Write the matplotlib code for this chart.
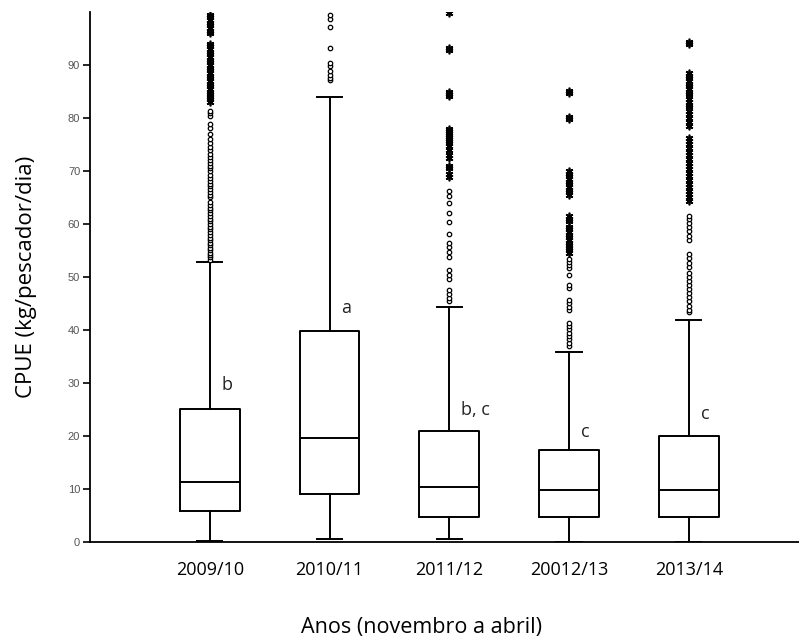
import numpy as np
import matplotlib
matplotlib.use("Agg")
import matplotlib.pyplot as plt

# Anos (novembro a abril)
anos = ["2009/10", "2010/11", "2011/12", "20012/13", "2013/14"]
letras = ["b", "a", "b, c", "c", "c"]

# quartis e bigodes (kg/pescador/dia)
q1 = [5.9, 9.0, 4.8, 4.8, 4.7]
mediana = [11.3, 19.6, 10.4, 9.9, 9.9]
q3 = [25.0, 39.9, 20.9, 17.3, 20.0]
bigode_inf = [0.25, 0.5, 0.5, 0.0, 0.0]
bigode_sup = [52.9, 83.9, 44.3, 35.8, 41.9]

# outliers (circulos) e extremos (asteriscos)
outliers = [
    [53.2, 53.7, 54.1, 54.6, 55.0, 55.5, 56.0, 56.4, 57.0, 57.4, 58.0, 58.5, 59.0,
     59.4, 60.0, 60.6, 61.0, 61.5, 62.0, 62.6, 63.0, 63.5, 64.2, 65.0, 65.5, 66.0,
     66.6, 67.1, 67.6, 68.2, 68.6, 69.2, 70.0, 70.5, 71.0, 71.6, 72.1, 72.6, 73.2,
     74.0, 74.5, 75.2, 76.0, 77.0, 78.2, 78.8, 80.4, 80.9, 81.3],
    [87.2, 87.6, 88.1, 88.9, 89.8, 90.4, 93.2, 97.1, 98.6, 99.4],
    [45.4, 46.0, 46.8, 47.6, 49.6, 50.4, 51.3, 53.8, 54.8, 55.6, 56.4, 58.2, 60.3,
     62.1, 64.0, 65.2, 66.3],
    [37.0, 37.6, 38.3, 38.9, 39.5, 40.2, 40.8, 41.4, 43.7, 44.3, 45.0, 45.6, 47.9,
     48.5, 50.3, 51.7, 52.2, 52.8, 53.4],
    [43.3, 43.8, 44.6, 45.4, 46.2, 47.0, 47.7, 48.5, 49.3, 50.0, 50.7, 51.8, 52.7,
     53.6, 54.4, 56.9, 57.8, 58.6, 59.4, 60.2, 60.9, 61.6],
]
extremos = [
    [83.0, 83.5, 84.0, 84.5, 85.0, 85.5, 86.0, 86.5, 87.0, 87.5, 88.0, 88.5, 89.0,
     89.5, 90.0, 90.5, 91.0, 91.5, 92.0, 92.5, 93.0, 93.5, 94.0, 96.0, 96.5, 97.0,
     97.5, 98.0, 98.5, 99.0, 99.5],
    [],
    [68.8, 69.5, 70.5, 71.0, 72.4, 73.0, 74.0, 74.8, 75.2, 75.6, 76.0, 76.4, 76.8,
     77.2, 77.6, 78.0, 84.2, 84.6, 85.0, 92.9, 93.3, 99.8],
    [54.5, 55.0, 55.5, 56.0, 56.5, 57.0, 57.5, 58.0, 58.5, 59.0, 59.5, 60.5, 61.0,
     61.5, 65.5, 66.0, 66.5, 67.0, 67.5, 68.0, 68.5, 69.0, 69.5, 70.0, 79.8, 80.2,
     84.7, 85.1],
    [64.4, 65.0, 65.6, 66.3, 67.0, 67.6, 68.3, 69.0, 69.6, 70.3, 71.0, 71.6, 72.3,
     73.0, 73.6, 74.3, 75.0, 75.6, 76.3, 78.5, 79.2, 80.0, 80.8, 81.4, 82.0, 82.5,
     83.0, 83.6, 84.6, 85.0, 85.5, 86.0, 86.5, 87.0, 87.5, 88.0, 88.5, 94.0, 94.4],
]
# posicao vertical das letras de significancia
letra_y = [29.6, 44.2, 24.9, 20.8, 24.1]


def main():
    plt.rcParams["font.family"] = ["Open Sans", "DejaVu Sans"]

    fig = plt.figure(figsize=(7.99, 6.42), dpi=100)
    ax = fig.add_axes([0.1126, 0.1558, 0.8874, 0.8255])

    pos = np.arange(1, len(anos) + 1)
    stats = []
    for i in range(len(anos)):
        stats.append({
            "med": mediana[i], "q1": q1[i], "q3": q3[i],
            "whislo": bigode_inf[i], "whishi": bigode_sup[i], "fliers": [],
        })

    line = dict(color="black", linewidth=1.4)
    ax.bxp(stats, positions=pos, widths=0.5, capwidths=0.21, showfliers=False,
           boxprops=line, whiskerprops=line, capprops=line, medianprops=line,
           manage_ticks=False)

    for i, p in enumerate(pos):
        o = outliers[i]
        ax.plot([p] * len(o), o, linestyle="none", marker="o", markersize=3.2,
                markerfacecolor="white", markeredgecolor="black",
                markeredgewidth=0.9, clip_on=True)
        e = extremos[i]
        ax.plot([p] * len(e), e, linestyle="none", marker=(6, 2, 0),
                markersize=5.5, color="black", markeredgewidth=1.2, clip_on=True)
        ax.text(p + 0.1, letra_y[i], letras[i], fontsize=13, ha="left",
                va="center", color="#222222")

    ax.set_xlim(0, 5.92)
    ax.set_ylim(0, 100)
    ax.set_xticks(pos)
    ax.set_xticklabels(anos, fontsize=13)
    ax.tick_params(axis="x", length=0, pad=14)
    ax.set_yticks(np.arange(0, 100, 10))
    ax.tick_params(axis="y", length=5, width=1.2, labelsize=8,
                   labelcolor="#555555", pad=2)
    for lab in ax.get_yticklabels():
        lab.set_family(["Liberation Sans", "DejaVu Sans"])

    ax.spines["top"].set_visible(False)
    ax.spines["right"].set_visible(False)
    ax.spines["left"].set_linewidth(1.3)
    ax.spines["bottom"].set_linewidth(1.3)

    ax.set_ylabel("CPUE (kg/pescador/dia)", fontsize=16, labelpad=22)
    fig.text(422 / 799, 1 - 627 / 642, "Anos (novembro a abril)", fontsize=15.5,
             ha="center", va="center")

    fig.savefig("out.png", dpi=100)
    plt.close(fig)


if __name__ == "__main__":
    main()
